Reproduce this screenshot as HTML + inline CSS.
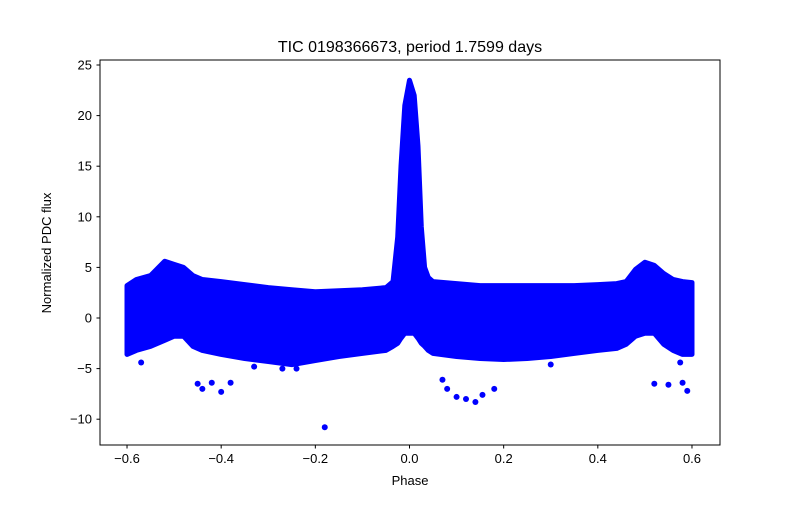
<!DOCTYPE html>
<html>
<head>
<meta charset="utf-8">
<style>
  html, body { margin: 0; padding: 0; background: #fff; }
  svg text { font-family: "Liberation Sans", "DejaVu Sans", sans-serif; }
</style>
</head>
<body>
<svg id="chart" width="800" height="500" viewBox="0 0 800 500" xmlns="http://www.w3.org/2000/svg">
  <rect x="0" y="0" width="800" height="500" fill="#fff"/>
  <text x="410" y="52" text-anchor="middle" font-size="16" fill="#000">TIC 0198366673, period 1.7599 days</text>
  <g id="marks"></g>
  <g id="axes"></g>
  <rect x="100" y="60" width="620" height="385" fill="none" stroke="#000" stroke-width="1"/>
  <text x="410" y="485" text-anchor="middle" font-size="13" fill="#000">Phase</text>
  <text x="0" y="0" transform="translate(51,253) rotate(-90)" text-anchor="middle" font-size="13" fill="#000">Normalized PDC flux</text>
</svg>
<script>
// Band envelope of the dense scatter (phase, upper flux, lower flux)
const bandPhase = [-0.6,-0.58,-0.55,-0.52,-0.5,-0.48,-0.46,-0.44,-0.4,-0.35,-0.3,-0.25,-0.2,-0.15,-0.1,-0.05,-0.035,-0.025,-0.018,-0.01,0,0.01,0.018,0.025,0.032,0.04,0.05,0.1,0.15,0.2,0.25,0.3,0.35,0.4,0.44,0.46,0.48,0.5,0.52,0.54,0.56,0.58,0.6];
const bandUpper = [3.2,3.8,4.2,5.6,5.3,5.0,4.2,3.8,3.6,3.3,3.0,2.8,2.6,2.7,2.8,3.0,3.6,8,15,21,23.5,22,17,9,5,4,3.6,3.4,3.2,3.2,3.2,3.2,3.2,3.3,3.4,3.6,4.8,5.5,5.2,4.4,3.8,3.6,3.5];
const bandLower = [-3.6,-3.2,-2.8,-2.2,-1.8,-1.8,-2.8,-3.2,-3.6,-4.0,-4.3,-4.6,-4.2,-3.8,-3.5,-3.2,-2.8,-2.5,-2,-1.5,-1.5,-1.5,-2,-2.5,-2.8,-3.2,-3.5,-3.8,-4.0,-4.1,-4.0,-3.8,-3.5,-3.2,-3.0,-2.6,-1.8,-1.5,-1.5,-2.6,-3.2,-3.6,-3.6];
// Isolated outlier points
const outPhase = [-0.45,-0.44,-0.42,-0.40,-0.38,-0.33,-0.27,-0.18,0.07,0.08,0.10,0.12,0.14,0.155,0.18,0.52,0.55,0.58,0.59,-0.57,0.575,-0.24,0.3];
const outFlux  = [-6.5,-7.0,-6.4,-7.3,-6.4,-4.8,-5.0,-10.8,-6.1,-7.0,-7.8,-8.0,-8.3,-7.6,-7.0,-6.5,-6.6,-6.4,-7.2,-4.4,-4.4,-5.0,-4.6];
// Axis ticks
const xTicks = [-0.6,-0.4,-0.2,0.0,0.2,0.4,0.6];
const xTickLabels = ["\u22120.6","\u22120.4","\u22120.2","0.0","0.2","0.4","0.6"];
const yTicks = [-10,-5,0,5,10,15,20,25];
const yTickLabels = ["\u221210","\u22125","0","5","10","15","20","25"];

const NS = "http://www.w3.org/2000/svg";
const x = p => 409.5 + p * 470.8;
const y = f => 318 - f * 10.12;
const marks = document.getElementById('marks');
const axes = document.getElementById('axes');

let d = "";
bandPhase.forEach((p, i) => { d += (i ? "L" : "M") + x(p).toFixed(1) + "," + y(bandUpper[i]).toFixed(1); });
for (let i = bandPhase.length - 1; i >= 0; i--) d += "L" + x(bandPhase[i]).toFixed(1) + "," + y(bandLower[i]).toFixed(1);
d += "Z";
const band = document.createElementNS(NS, 'path');
band.setAttribute('d', d);
band.setAttribute('fill', '#0000ff');
band.setAttribute('stroke', '#0000ff');
band.setAttribute('stroke-width', '5');
band.setAttribute('stroke-linejoin', 'round');


marks.appendChild(band);

outPhase.forEach((p, i) => {
  const c = document.createElementNS(NS, 'circle');
  c.setAttribute('cx', x(p));
  c.setAttribute('cy', y(outFlux[i]));
  c.setAttribute('r', '3');
  c.setAttribute('fill', '#0000ff');
  
  
  marks.appendChild(c);
});

xTicks.forEach((t, i) => {
  const l = document.createElementNS(NS, 'line');
  l.setAttribute('x1', x(t)); l.setAttribute('x2', x(t));
  l.setAttribute('y1', 445); l.setAttribute('y2', 448.5);
  l.setAttribute('stroke', '#000');
  
  
  axes.appendChild(l);
  const tx = document.createElementNS(NS, 'text');
  tx.setAttribute('x', x(t)); tx.setAttribute('y', 463);
  tx.setAttribute('text-anchor', 'middle');
  tx.setAttribute('font-size', '13');
  tx.textContent = xTickLabels[i];
  
  
  axes.appendChild(tx);
});
yTicks.forEach((t, i) => {
  const l = document.createElementNS(NS, 'line');
  l.setAttribute('x1', 96.5); l.setAttribute('x2', 100);
  l.setAttribute('y1', y(t)); l.setAttribute('y2', y(t));
  l.setAttribute('stroke', '#000');
  
  
  axes.appendChild(l);
  const tx = document.createElementNS(NS, 'text');
  tx.setAttribute('x', 92); tx.setAttribute('y', y(t) + 4.5);
  tx.setAttribute('text-anchor', 'end');
  tx.setAttribute('font-size', '13');
  tx.textContent = yTickLabels[i];
  
  
  axes.appendChild(tx);
});
</script>
</body>
</html>
